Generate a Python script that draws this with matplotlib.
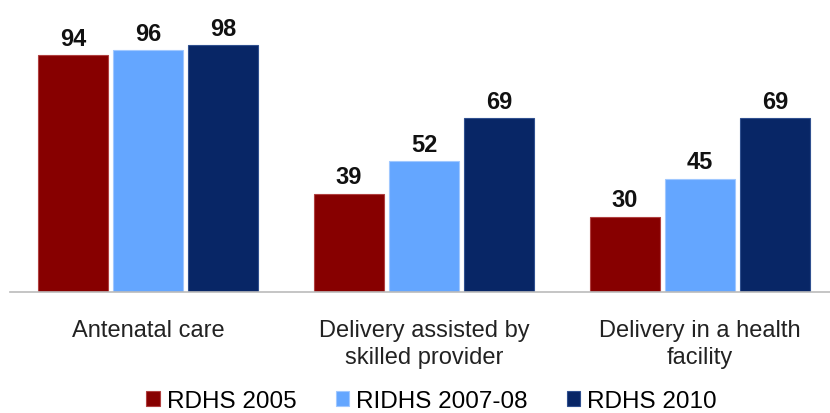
import numpy as np
import matplotlib.pyplot as plt

plt.rcParams['font.family'] = ['Liberation Sans', 'DejaVu Sans']

# Coverage of maternal health services by survey round
categories = ["Antenatal care", "Delivery assisted by\nskilled provider", "Delivery in a health\nfacility"]
surveys = ["RDHS 2005", "RIDHS 2007-08", "RDHS 2010"]
rdhs_2005 = [94, 39, 30]
ridhs_2007 = [96, 52, 45]
rdhs_2010 = [98, 69, 69]

colors = ["#870000", "#64A6FF", "#082666"]
edges = ["#B04040", "#A0C8FF", "#30508F"]

fig = plt.figure(figsize=(8.3, 4.14), dpi=100)
ax = fig.add_axes([0.012, 0.292, 0.988, 0.708])

x = np.arange(len(categories))
width = 0.256
offsets = [-0.272, 0.0, 0.272]

for vals, off, col, ec, name in zip([rdhs_2005, ridhs_2007, rdhs_2010], offsets, colors, edges, surveys):
    bars = ax.bar(x + off, vals, width, color=col, edgecolor=ec, linewidth=0.8, label=name)
    for b, v in zip(bars, vals):
        ax.annotate(str(v), (b.get_x() + b.get_width() / 2, v), xytext=(0, 4),
                    textcoords="offset points", ha="center", va="bottom",
                    fontsize=17, fontweight="bold", color="#111111")

ax.set_xlim(-0.5, 2.471)
ax.set_ylim(0, 116.3)
ax.set_xticks(x)
ax.set_xticklabels(categories, fontsize=17, color="#222222", linespacing=1.3)
ax.tick_params(axis="x", length=0, pad=19)
ax.set_yticks([])
for s in ["top", "right", "left"]:
    ax.spines[s].set_visible(False)
ax.spines["bottom"].set_color("#BBBBBB")
ax.spines["bottom"].set_linewidth(1.2)

fig.legend(loc="lower center", bbox_to_anchor=(0.52, -0.05), ncol=3, frameon=False,
           fontsize=17.5, handlelength=0.55, handleheight=0.55, handletextpad=0.3,
           columnspacing=1.6)

fig.savefig("out.png", dpi=100)
